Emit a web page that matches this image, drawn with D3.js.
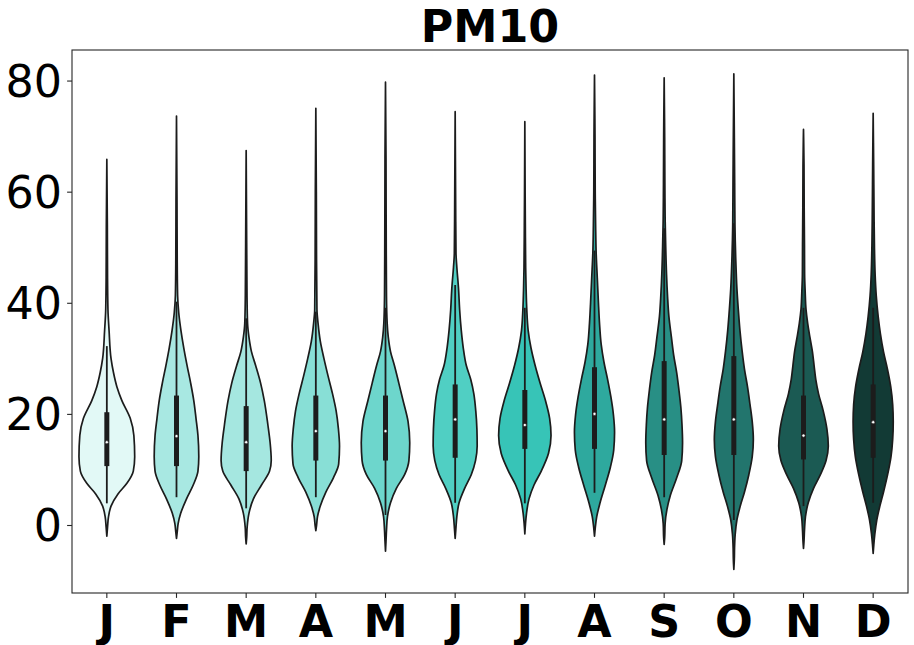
<!DOCTYPE html>
<html>
<head>
<meta charset="utf-8">
<script src="https://cdn.jsdelivr.net/npm/d3@7"></script>
<style>
  body { margin: 0; background: #fff; }
  svg { display: block; }
  text { font-family: "DejaVu Sans", sans-serif; fill: #000; }
</style>
</head>
<body>
<svg width="914" height="645"></svg>
<script>
var months = ["J", "F", "M", "A", "M", "J", "J", "A", "S", "O", "N", "D"];
var colors = ["#e2f9f6", "#a8e8e2", "#a5e7e0", "#88dfd6", "#6dd6cc", "#50cfc3",
              "#37c4b7", "#2ea99e", "#288f85", "#22756d", "#1b5a53", "#123a35"];

// inner box stats per month: [whisker low, q1, median, q3, whisker high]
var boxStats = [
  [3.9, 10.6, 14.9, 20.3, 32.2],
  [5.0, 10.6, 16.0, 23.3, 40.2],
  [3.0, 9.7, 14.9, 21.4, 37.2],
  [5.0, 11.6, 16.9, 23.3, 38.4],
  [1.8, 11.6, 16.9, 23.3, 39.1],
  [4.0, 12.1, 19.0, 25.3, 43.2],
  [3.9, 13.7, 18.0, 24.3, 39.1],
  [5.8, 13.7, 20.0, 28.4, 49.4],
  [5.0, 12.6, 19.0, 29.5, 53.4],
  [0.9, 12.6, 19.0, 30.4, 54.3],
  [3.4, 11.8, 16.1, 23.3, 39.1],
  [4.0, 12.1, 18.5, 25.3, 39.1]
];

// violin outlines, [PM10 value, relative density]
var janDensity = [[-2.0,0],[-0.4,0.025],[1.5,0.06],[3.4,0.15],[5.6,0.4],[7.5,0.72],[9.7,0.95],[12.3,1.0],[16.1,0.97],[19.2,0.84],[22.4,0.54],[24.9,0.36],[27.4,0.24],[30.0,0.15],[35.0,0.08],[38.8,0.04],[44.5,0.025],[54,0.018],[65.8,0]];
var febDensity = [[-2.4,0],[-1.3,0.025],[0.3,0.06],[2.1,0.15],[4.7,0.36],[7.2,0.6],[9.7,0.77],[12.3,0.8],[16.1,0.77],[19.2,0.7],[22.4,0.62],[25.5,0.51],[28.7,0.38],[31.9,0.26],[35.0,0.16],[38.2,0.08],[41.3,0.04],[47.7,0.025],[58,0.018],[73.6,0]];
var marDensity = [[-3.4,0],[-2.3,0.018],[-0.4,0.035],[2.1,0.1],[4.7,0.26],[7.2,0.55],[9.7,0.84],[11.6,0.9],[14.8,0.86],[18.0,0.78],[22.4,0.65],[25.5,0.52],[28.7,0.34],[31.2,0.19],[33.8,0.1],[36.3,0.05],[41.3,0.03],[50.8,0.018],[67.4,0]];
var aprDensity = [[-1.0,0],[-0.1,0.025],[1.5,0.06],[3.4,0.16],[5.9,0.36],[8.5,0.63],[11.0,0.82],[14.2,0.85],[17.3,0.81],[20.5,0.73],[23.6,0.6],[26.8,0.44],[30.0,0.29],[33.1,0.16],[36.3,0.08],[38.8,0.04],[47.7,0.025],[60,0.018],[75.0,0]];
var mayDensity = [[-4.7,0],[-2.9,0.018],[-1.0,0.035],[1.5,0.07],[4.0,0.18],[6.6,0.39],[9.1,0.69],[11.6,0.84],[14.8,0.87],[18.6,0.81],[22.4,0.63],[25.5,0.48],[28.7,0.32],[31.2,0.18],[33.8,0.1],[36.3,0.06],[41.3,0.035],[54,0.024],[66,0.018],[79.7,0]];
var junDensity = [[-2.4,0],[-0.7,0.025],[1.5,0.06],[4.0,0.14],[6.6,0.34],[9.1,0.58],[11.6,0.73],[14.2,0.79],[17.3,0.78],[20.5,0.74],[23.6,0.67],[26.2,0.56],[28.7,0.4],[31.9,0.29],[35.0,0.22],[38.8,0.16],[42.6,0.12],[46.4,0.06],[48.9,0.03],[57.1,0.018],[74.4,0]];
var julDensity = [[-1.6,0],[0.3,0.025],[2.1,0.06],[4.7,0.15],[7.2,0.33],[9.7,0.59],[12.9,0.85],[16.1,0.94],[19.2,0.89],[22.4,0.74],[25.5,0.55],[28.7,0.37],[31.9,0.22],[35.0,0.12],[38.8,0.07],[42.6,0.045],[46.4,0.03],[54,0.018],[72.6,0]];
var augDensity = [[-2.0,0],[-0.4,0.03],[1.5,0.08],[4.0,0.2],[7.2,0.39],[10.4,0.57],[13.5,0.69],[16.7,0.72],[19.8,0.68],[23.0,0.59],[26.2,0.47],[29.3,0.34],[32.5,0.24],[36.3,0.18],[40.1,0.14],[44.5,0.1],[48.9,0.06],[54.0,0.04],[60.3,0.025],[69.8,0.018],[81.0,0]];
var sepDensity = [[-3.5,0],[-2.3,0.018],[0.3,0.035],[2.8,0.1],[5.3,0.22],[8.5,0.45],[11.6,0.63],[14.8,0.66],[18.0,0.64],[21.1,0.6],[24.3,0.53],[27.4,0.45],[30.6,0.34],[33.8,0.26],[37.5,0.17],[41.3,0.12],[45.1,0.085],[50.2,0.055],[55.2,0.035],[61.6,0.025],[69.8,0.018],[80.5,0]];
var octDensity = [[-8.0,0],[-6.1,0.018],[-4.2,0.025],[-1.6,0.05],[0.9,0.11],[3.4,0.23],[5.9,0.38],[9.1,0.54],[12.3,0.66],[15.4,0.7],[18.6,0.66],[21.7,0.58],[24.9,0.49],[28.1,0.38],[31.2,0.3],[35.0,0.22],[38.8,0.16],[42.6,0.11],[47.7,0.07],[54.0,0.04],[61.6,0.03],[69.8,0.018],[81.2,0]];
var novDensity = [[-4.2,0],[-2.9,0.018],[-1.0,0.035],[1.5,0.07],[4.0,0.17],[6.6,0.36],[9.1,0.61],[11.6,0.81],[14.2,0.89],[17.3,0.84],[20.5,0.71],[23.6,0.54],[26.2,0.44],[28.7,0.38],[31.2,0.32],[33.8,0.23],[36.3,0.15],[38.8,0.09],[42.0,0.06],[45.1,0.04],[50.2,0.035],[57.1,0.024],[64.7,0.018],[71.2,0]];
var decDensity = [[-5.1,0],[-3.5,0.024],[-1.6,0.06],[0.9,0.13],[3.4,0.24],[5.9,0.37],[9.1,0.52],[12.3,0.64],[15.4,0.7],[18.6,0.72],[21.7,0.7],[24.9,0.63],[28.1,0.51],[31.2,0.37],[34.4,0.26],[37.5,0.18],[41.3,0.11],[45.1,0.07],[50.2,0.045],[57.1,0.03],[64.7,0.018],[74.1,0]];

var densities = [janDensity, febDensity, marDensity, aprDensity, mayDensity, junDensity,
                 julDensity, augDensity, sepDensity, octDensity, novDensity, decDensity];

var yTicks = [0, 20, 40, 60, 80];

var svg = d3.select("svg"),
  margin = {top: 50, right: 6, bottom: 52, left: 72},
  width = +svg.attr("width") - margin.left - margin.right,
  height = +svg.attr("height") - margin.top - margin.bottom,
  g = svg.append("g").attr("transform", "translate(" + margin.left + "," + margin.top + ")");

var gray = "#1c1c1c";

var x = d3.scaleBand()
  .domain(d3.range(months.length))
  .range([0, width])
  .padding(0);

var y = d3.scaleLinear()
  .domain([-12.24, 85.5])
  .range([height, 0]);

var maxHalf = x.bandwidth() * 0.4;

var violins = g.append("g")
  .selectAll("g")
  .data(months.map(function(m, i) { return {i: i, density: densities[i], stats: boxStats[i]}; }))
  .enter().append("g")
    .attr("transform", function(d) { return "translate(" + (x(d.i) + x.bandwidth() / 2) + ",0)"; });

var area = d3.area()
  .y(function(p) { return y(p[0]); })
  .x0(function(p) { return -p[1] * maxHalf; })
  .x1(function(p) { return p[1] * maxHalf; })
  .curve(d3.curveMonotoneY);

violins.append("path")
  .attr("d", function(d) { return area(d.density); })
  .attr("fill", function(d) { return colors[d.i]; })
  .attr("stroke", gray)
  .attr("stroke-width", 1.7)
  .attr("stroke-linejoin", "round");

// whiskers
violins.append("line")
  .attr("x1", 0).attr("x2", 0)
  .attr("y1", function(d) { return y(d.stats[0]); })
  .attr("y2", function(d) { return y(d.stats[4]); })
  .attr("stroke", gray)
  .attr("stroke-width", 1.8);

// interquartile box
violins.append("line")
  .attr("x1", 0).attr("x2", 0)
  .attr("y1", function(d) { return y(d.stats[1]); })
  .attr("y2", function(d) { return y(d.stats[3]); })
  .attr("stroke", gray)
  .attr("stroke-width", 5);

// median
violins.append("circle")
  .attr("cx", 0)
  .attr("cy", function(d) { return y(d.stats[2]); })
  .attr("r", 1.6)
  .attr("fill", "#fff")
  .attr("stroke", gray)
  .attr("stroke-width", 0.6);

// axes
var xAxis = g.append("g")
  .attr("transform", "translate(0," + height + ")")
  .call(d3.axisBottom(x).tickFormat(function(i) { return months[i]; }).tickSize(4.9).tickPadding(5));
xAxis.selectAll("text")
  .attr("font-size", "44.4px")
  .attr("font-weight", "bold")
  .attr("dy", "0.76em");

var yAxis = g.append("g")
  .call(d3.axisLeft(y).tickValues(yTicks).tickSize(4.9).tickPadding(5));
yAxis.selectAll("text")
  .attr("font-size", "44.4px")
  .attr("dy", "0.36em");

[xAxis, yAxis].forEach(function(a) {
  a.attr("font-family", null);
  a.select(".domain").remove();
  a.selectAll(".tick line").attr("stroke", "#262626").attr("stroke-width", 1.1);
});

g.append("rect")
  .attr("width", width)
  .attr("height", height)
  .attr("fill", "none")
  .attr("stroke", "#262626")
  .attr("stroke-width", 1.1);

svg.append("text")
  .attr("x", margin.left + width / 2)
  .attr("y", margin.top - 8.3)
  .attr("text-anchor", "middle")
  .attr("font-size", "44.4px")
  .attr("font-weight", "bold")
  .text("PM10");
</script>
</body>
</html>
